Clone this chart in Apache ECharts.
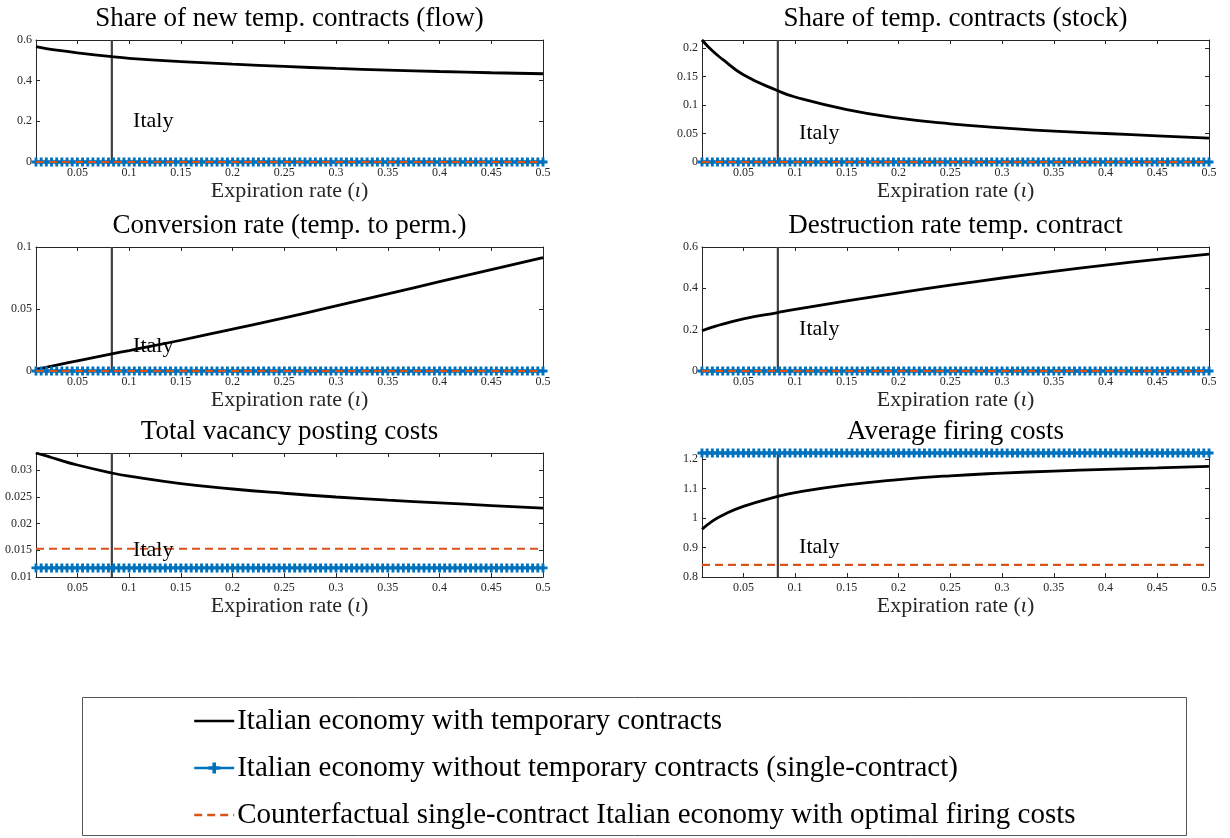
<!DOCTYPE html>
<html><head><meta charset="utf-8">
<script src="https://cdn.jsdelivr.net/npm/echarts@6/dist/echarts.min.js"></script>
<style>html,body{margin:0;padding:0;background:#fff}#c{width:1230px;height:838px}</style>
</head><body><div id="c"></div>
<script>
// ---- data ----
const iotaGrid = [
0.01,0.015,0.02,0.025,0.03,0.035,0.04,0.045,0.05,0.055,
0.06,0.065,0.07,0.075,0.08,0.085,0.09,0.095,0.1,0.105,
0.11,0.115,0.12,0.125,0.13,0.135,0.14,0.145,0.15,0.155,
0.16,0.165,0.17,0.175,0.18,0.185,0.19,0.195,0.2,0.205,
0.21,0.215,0.22,0.225,0.23,0.235,0.24,0.245,0.25,0.255,
0.26,0.265,0.27,0.275,0.28,0.285,0.29,0.295,0.3,0.305,
0.31,0.315,0.32,0.325,0.33,0.335,0.34,0.345,0.35,0.355,
0.36,0.365,0.37,0.375,0.38,0.385,0.39,0.395,0.4,0.405,
0.41,0.415,0.42,0.425,0.43,0.435,0.44,0.445,0.45,0.455,
0.46,0.465,0.47,0.475,0.48,0.485,0.49,0.495,0.5];
const curveX = [0.01,0.02,0.03,0.05,0.0833,0.1,0.15,0.2,0.25,0.3,0.35,0.4,0.45,0.5];
const flowShare    = [0.567,0.558,0.550,0.537,0.518,0.510,0.494,0.481,0.470,0.460,0.452,0.445,0.439,0.434];
const stockShare   = [0.214,0.195,0.180,0.153,0.125,0.114,0.092,0.077,0.067,0.060,0.054,0.050,0.046,0.042];
const conversion   = [0.0015,0.003,0.0048,0.0082,0.0138,0.0165,0.0248,0.0338,0.0428,0.0525,0.0622,0.0720,0.0818,0.0915];
const destruction  = [0.195,0.212,0.227,0.252,0.283,0.298,0.339,0.378,0.415,0.450,0.482,0.512,0.540,0.566];
const vacancyCost  = [0.03325,0.0327,0.0321,0.0310,0.0295,0.0289,0.0275,0.0265,0.0257,0.0250,0.0244,0.0239,0.0234,0.0229];
const firingCost   = [0.962,0.990,1.010,1.040,1.074,1.087,1.113,1.131,1.144,1.153,1.160,1.166,1.171,1.176];
const blackCurves = [flowShare, stockShare, conversion, destruction, vacancyCost, firingCost];
const blueLevels   = [0, 0, 0, 0, 0.0117, 1.2214];
const orangeLevels = [0, 0, 0, 0, 0.0153, 0.841];
const panelTitles = ['Share of new temp. contracts (flow)','Share of temp. contracts (stock)',
  'Conversion rate (temp. to perm.)','Destruction rate temp. contract',
  'Total vacancy posting costs','Average firing costs'];
const yMin = [0, 0, 0, 0, 0.01, 0.8];
const yMax = [0.6, 0.214, 0.1, 0.6, 0.03325, 1.2214];
const yTicks = [[0,0.2,0.4,0.6],[0,0.05,0.1,0.15,0.2],[0,0.05,0.1],[0,0.2,0.4,0.6],
  [0.01,0.015,0.02,0.025,0.03],[0.8,0.9,1,1.1,1.2]];
const xTicks = [0.05,0.1,0.15,0.2,0.25,0.3,0.35,0.4,0.45,0.5];
const xMin = 0.01, xMax = 0.5;
const italyIota = 0.0833;
const italyLabelX = 0.1;
const italyLabelY = [0.2, 0.05, 0.02, 0.2, 0.015, 0.9];
const seriesNames = ['Italian economy with temporary contracts',
  'Italian economy without temporary contracts (single-contract)',
  'Counterfactual single-contract Italian economy with optimal firing costs'];

// ---- layout ----
const SERIF = '"Liberation Serif", "DejaVu Serif", serif';
const AX = '#262626';
const colLeft = [36, 702], plotW = 507;
const rowTop = [40, 247, 453], rowH = [122, 124, 124];
const BLUE = '#0072BD', ORANGE = '#D95319';
const plusPath = 'path://M3.4,0H6.6V3.4H10V6.6H6.6V10H3.4V6.6H0V3.4H3.4Z';

const grids = [], xAxes = [], yAxes = [], series = [], titles = [];
for (let i = 0; i < 6; i++) {
  const c = i % 2, r = Math.floor(i / 2);
  grids.push({left: colLeft[c], top: rowTop[r], width: plotW, height: rowH[r], containLabel: false});
  titles.push({text: panelTitles[i], left: colLeft[c] + plotW / 2, top: rowTop[r] - 35, textAlign: 'center',
    padding: 0, textStyle: {fontFamily: SERIF, fontSize: 27, fontWeight: 'normal', color: '#000'}});
  const xBase = {type: 'value', gridIndex: i, min: xMin, max: xMax, splitLine: {show: false},
    axisLine: {show: true, onZero: false, lineStyle: {color: AX, width: 1}},
    axisTick: {show: true, inside: true, length: 4, customValues: xTicks, lineStyle: {color: AX}}};
  xAxes.push(Object.assign({}, xBase, {position: 'bottom',
    axisLabel: {show: true, customValues: xTicks, margin: 5, fontFamily: SERIF, fontSize: 12, color: AX},
    name: 'Expiration rate ({it|ι})', nameLocation: 'middle', nameGap: 12,
    nameTextStyle: {fontFamily: SERIF, fontSize: 22, color: AX,
      rich: {it: {fontFamily: SERIF, fontSize: 22, fontStyle: 'italic', color: AX}}}}));
  xAxes.push(Object.assign({}, xBase, {position: 'top', axisLabel: {show: false}}));
  const yBase = {type: 'value', gridIndex: i, min: yMin[i], max: yMax[i], splitLine: {show: false},
    axisLine: {show: true, onZero: false, lineStyle: {color: AX, width: 1}},
    axisTick: {show: true, inside: true, length: 4, customValues: yTicks[i], lineStyle: {color: AX}}};
  yAxes.push(Object.assign({}, yBase, {position: 'left',
    axisLabel: {show: true, customValues: yTicks[i], margin: 4, fontFamily: SERIF, fontSize: 12, color: AX}}));
  yAxes.push(Object.assign({}, yBase, {position: 'right', axisLabel: {show: false}}));

  series.push({name: 'italy-line-' + i, type: 'line', xAxisIndex: 2 * i, yAxisIndex: 2 * i,
    data: [[italyIota, yMin[i]], [italyIota, yMax[i]]], symbol: 'none', silent: true,
    lineStyle: {color: '#404040', width: 2.2}, z: 2});
  series.push({name: seriesNames[0], type: 'line', xAxisIndex: 2 * i, yAxisIndex: 2 * i,
    data: curveX.map((x, k) => [x, blackCurves[i][k]]), symbol: 'none', smooth: 0.5,
    lineStyle: {color: '#000', width: 2.8}, itemStyle: {color: '#000'}, z: 3});
  series.push({name: seriesNames[1], type: 'line', xAxisIndex: 2 * i, yAxisIndex: 2 * i,
    data: iotaGrid.map(x => [x, blueLevels[i]]), symbol: plusPath, symbolSize: 9, showAllSymbol: true,
    clip: false, lineStyle: {color: BLUE, width: 2.5}, itemStyle: {color: BLUE}, z: 4});
  series.push({name: seriesNames[2], type: 'line', xAxisIndex: 2 * i, yAxisIndex: 2 * i,
    data: [[xMin, orangeLevels[i]], [xMax, orangeLevels[i]]], symbol: 'none', clip: false,
    lineStyle: {color: ORANGE, width: 2.2, type: [8, 5]}, itemStyle: {color: ORANGE}, z: 5});
  series.push({name: 'italy-label-' + i, type: 'scatter', xAxisIndex: 2 * i, yAxisIndex: 2 * i,
    data: [[italyLabelX, italyLabelY[i]]], symbol: 'circle', symbolSize: 0, silent: true, z: 6,
    itemStyle: {color: '#000'},
    label: {show: true, position: 'right', distance: 4, formatter: 'Italy', opacity: 1,
      fontFamily: SERIF, fontSize: 22, color: '#000'}});
}

const chart = echarts.init(document.getElementById('c'), null, {renderer: 'canvas'});
chart.setOption({
  animation: false,
  backgroundColor: '#fff',
  title: titles,
  grid: grids, xAxis: xAxes, yAxis: yAxes, series: series,
  legend: {data: [
      {name: seriesNames[0], itemStyle: {color: 'rgba(0,0,0,0)', borderWidth: 0}},
      {name: seriesNames[1]},
      {name: seriesNames[2], itemStyle: {color: 'rgba(0,0,0,0)', borderWidth: 0}}],
    orient: 'vertical', left: 193, top: 706, padding: 0,
    itemWidth: 40, itemHeight: 14, itemGap: 17, selectedMode: false,
    lineStyle: {width: 2.4},
    textStyle: {fontFamily: SERIF, fontSize: 29, color: '#000', lineHeight: 30, padding: [0, 0, 0, -2]}},
  graphic: [{type: 'rect', shape: {x: 82.5, y: 697.5, width: 1104, height: 138},
    style: {fill: 'none', stroke: '#555', lineWidth: 1}, silent: true}]
});
</script></body></html>
